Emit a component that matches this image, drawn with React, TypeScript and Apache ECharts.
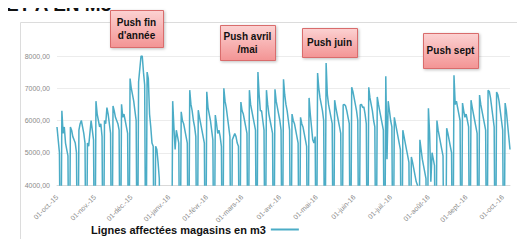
import React, { useEffect, useRef } from "react";
import * as echarts from "echarts";

// Daily volumes (m3), starting Thu 01-oct-2015; one row per week (Mon..Sun)
const startDate = "2015-10-01";

const volumesOctDec2015 = [
  5800, 5400, 5000, 0,
  6300, 5600, 5800, 5300, 5100, 4900, 0,
  5800, 5700, 5500, 5400, 5300, 5000, 0,
  5700, 5900, 6000, 5800, 5600, 5300, 0,
  5300, 5200, 5600, 6000, 5700, 5400, 0,
  6600, 6200, 6000, 5800, 5900, 5500, 0,
  6000, 5900, 6400, 6200, 5900, 5600, 0,
  6450, 6300, 6100, 6000, 5900, 5700, 0,
  6500, 6100, 6200, 6000, 5800, 5600, 0,
  7300, 7000, 6800, 6600, 6300, 6000, 0,
  7200, 7600, 8000, 8000, 7500, 7100, 0,
  7500, 7300, 6200, 5800, 5300, 5200, 0,
  5200, 5100, 4700, 4200, 0, 0, 0,
  0, 0, 0, 0, 0, 0, 0,
];

const volumesJanMar2016 = [
  6600, 5800, 5100, 5700, 5500, 5300, 0,
  6270, 6000, 5900, 5700, 5500, 5300, 0,
  6940, 6500, 6300, 6000, 5800, 5500, 0,
  6320, 6100, 5900, 5700, 5500, 5300, 0,
  6890, 6400, 6200, 6000, 5700, 5400, 0,
  6170, 5900, 5600, 5700, 5500, 5200, 0,
  7000, 6600, 6400, 6100, 5800, 5500, 0,
  5400, 5500, 5600, 5500, 5300, 5200, 0,
  6570, 6300, 6200, 6000, 5800, 5600, 0,
  6940, 6500, 6300, 6100, 5900, 5700, 0,
  7500, 6800, 6300, 6300, 6000, 5700, 0,
  6940, 6500, 6200, 6000, 5800, 5600, 0,
  6970, 6600, 6400, 6200, 6000, 5700, 0,
];

const volumesAprJun2016 = [
  7280, 6800, 6500, 6300, 6000, 5700, 0,
  6200, 6000, 5900, 5700, 5500, 5300, 0,
  6100, 5900, 5800, 5600, 5400, 5200, 0,
  6700, 6200, 5800, 5400, 5300, 5500, 0,
  7470, 7000, 6700, 6500, 6300, 6000, 0,
  7780, 6800, 6500, 6300, 6100, 5900, 0,
  6630, 6400, 6200, 6000, 5800, 5600, 0,
  6480, 6500, 6450, 6300, 6100, 5900, 0,
  7030, 6900, 6700, 6500, 6300, 6000, 0,
  6480, 6500, 6400, 6420, 6200, 5900, 0,
  7030, 6700, 6500, 6300, 6000, 5800, 0,
  6730, 6500, 6300, 6100, 5900, 5700, 0,
  7370, 4800, 6600, 6300, 6000, 5800, 0,
];

const volumesJulOct2016 = [
  6100, 5900, 5700, 5500, 5300, 5100, 0,
  5700, 5500, 5300, 5100, 4900, 4700, 0,
  4870, 4700, 4500, 4300, 4100, 4000, 0,
  5400, 5100, 4800, 4600, 4400, 4200, 0,
  6380, 5600, 4100, 5000, 4800, 4600, 0,
  6000, 5700, 5500, 5300, 5100, 4900, 0,
  0, 5760, 5600, 5400, 5200, 5000, 0,
  7400, 6500, 6600, 6400, 6200, 6000, 0,
  6540, 6300, 6100, 6200, 6000, 5800, 0,
  6630, 6400, 6200, 6000, 5800, 5600, 0,
  6790, 6500, 6300, 6100, 5900, 5700, 0,
  6940, 6900, 6700, 6400, 6100, 5800, 0,
  6880, 6800, 6600, 6300, 6000, 5700, 0,
  6540, 6300, 5900, 5500, 5100,
];

const monthTickLabels = [
  "01-oct.-15", "01-nov.-15", "01-déc.-15", "01-janv.-16", "01-févr.-16",
  "01-mars-16", "01-avr.-16", "01-mai-16", "01-juin-16", "01-juil.-16",
  "01-août-16", "01-sept.-16", "01-oct.-16",
];

const seriesName = "Lignes affectées magasins en m3";
const yTicks = [4000, 5000, 6000, 7000, 8000];

const callouts = [
  { lines: ["Push fin", "d'année"], box: [110, 10, 53, 37] },
  { lines: ["Push avril", "/mai"], box: [220, 25, 55, 35] },
  { lines: ["Push juin"], box: [302, 28, 55, 29] },
  { lines: ["Push sept"], box: [423, 33, 55, 35] },
];

export default function App() {
  const ref = useRef<HTMLDivElement>(null);

  useEffect(() => {
    if (!ref.current) return;
    const chart = echarts.init(ref.current, undefined, { renderer: "svg" });

    const values = [
      ...volumesOctDec2015,
      ...volumesJanMar2016,
      ...volumesAprJun2016,
      ...volumesJulOct2016,
    ];
    const base = new Date(startDate + "T00:00:00Z").getTime();
    const categories = values.map((_, i) => {
      const d = new Date(base + i * 86400000);
      return d.toISOString().slice(0, 10);
    });
    const monthIndex = (s: string) => {
      const y = Number(s.slice(0, 4));
      const m = Number(s.slice(5, 7));
      return (y - 2015) * 12 + (m - 10);
    };

    const boxFill = {
      type: "linear",
      x: 0, y: 0, x2: 0, y2: 1,
      colorStops: [
        { offset: 0, color: "#fcd2d2" },
        { offset: 1, color: "#f39494" },
      ],
    };

    const graphics: any[] = [
      {
        type: "rect",
        shape: { x: 20.5, y: 22.5, width: 530, height: 240 },
        style: { fill: "none", stroke: "#dcdcdc", lineWidth: 1 },
        silent: true,
        z: 0,
      },
      {
        type: "text",
        x: 6,
        y: 14,
        style: {
          text: "ET A EN M3",
          fill: "#111",
          font: "bold 19px 'Liberation Sans', Arial, sans-serif",
          textVerticalAlign: "bottom",
        },
        z: 10,
      },
    ];
    callouts.forEach((c) => {
      const [x, y, w, h] = c.box;
      graphics.push({
        type: "rect",
        shape: { x: x + 0.5, y: y + 0.5, width: w, height: h },
        style: {
          fill: boxFill,
          stroke: "#d96c6c",
          lineWidth: 1,
          shadowBlur: 3,
          shadowColor: "rgba(0,0,0,0.25)",
          shadowOffsetX: 1,
          shadowOffsetY: 1,
        },
        z: 20,
      });
      graphics.push({
        type: "text",
        x: x + w / 2,
        y: y + h / 2,
        style: {
          text: c.lines.join("\n"),
          fill: "#111",
          font: "bold 10px 'Liberation Sans', Arial, sans-serif",
          textAlign: "center",
          textVerticalAlign: "middle",
          lineHeight: 13,
        },
        z: 21,
      });
    });

    chart.setOption({
      animation: false,
      grid: { left: 57, right: 15, top: 56, bottom: 62, containLabel: false },
      legend: {
        data: [seriesName],
        left: 86,
        top: 219,
        align: "right",
        icon: "rect",
        itemWidth: 28,
        itemHeight: 2,
        itemGap: 10,
        textStyle: {
          fontFamily: "'Liberation Sans', Arial, sans-serif",
          fontWeight: "bold",
          fontSize: 11,
          color: "#111",
        },
      },
      xAxis: {
        type: "category",
        data: categories,
        boundaryGap: false,
        axisLine: { show: true, lineStyle: { color: "#d9d9d9" } },
        axisTick: { show: false },
        splitLine: { show: false },
        axisLabel: {
          rotate: 45,
          interval: (_i: number, v: string) => v.slice(8, 10) === "01",
          formatter: (v: string) => monthTickLabels[monthIndex(v)] ?? "",
          fontSize: 7,
          color: "#8a8a8a",
          fontFamily: "'Liberation Sans', Arial, sans-serif",
          margin: 11,
        },
      },
      yAxis: {
        type: "value",
        min: yTicks[0],
        max: yTicks[yTicks.length - 1],
        interval: 1000,
        axisLine: { show: false },
        axisTick: { show: false },
        splitLine: { lineStyle: { color: "#ececec", width: 1 } },
        axisLabel: {
          formatter: (v: number) => v.toFixed(2).replace(".", ","),
          fontSize: 7,
          color: "#8a8a8a",
          fontFamily: "'Liberation Sans', Arial, sans-serif",
          margin: 7,
        },
      },
      series: [
        {
          name: seriesName,
          type: "line",
          data: values,
          showSymbol: false,
          symbol: "none",
          clip: true,
          lineStyle: { color: "#4bacc6", width: 1.5 },
          itemStyle: { color: "#4bacc6" },
        },
      ],
      graphic: graphics,
    });

    return () => chart.dispose();
  }, []);

  return <div ref={ref} style={{ width: 525, height: 247, margin: -8 }} />;
}
